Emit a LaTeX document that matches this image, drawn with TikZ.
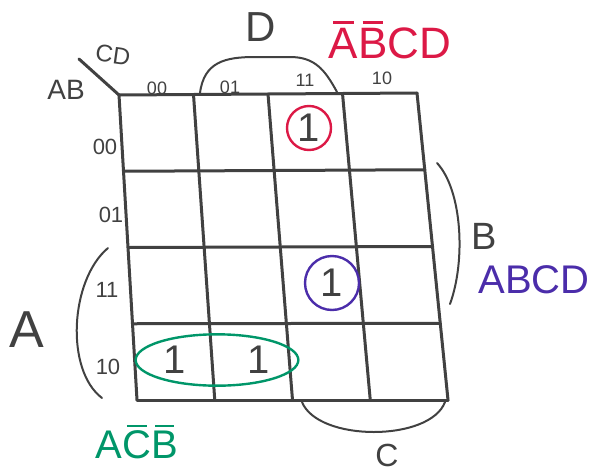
\documentclass[tikz,border=0pt]{standalone}
\usepackage{fontspec}
\setmainfont{Liberation Sans}
\usetikzlibrary{calc,fit,shapes.geometric}
\definecolor{kmrosso}{RGB}{220,25,70}
\definecolor{kmblu}{RGB}{75,45,170}
\definecolor{kmverde}{RGB}{0,150,105}
\definecolor{kmgrigio}{RGB}{65,65,65}
\newcommand{\nega}[1]{\setbox0\hbox{#1}\makebox[0pt][l]{\hspace{\dimexpr\wd0*15/100\relax}\rule[\dimexpr\ht0+2pt\relax]{\dimexpr\wd0*70/100\relax}{1.2pt}}\box0}
\newcommand{\fs}[1]{\fontsize{#1}{#1}\selectfont}

\begin{document}
\begin{tikzpicture}[x=0.5pt, y=-0.5pt,
    griglia/.style={draw=kmgrigio, line width=1.5pt, line cap=round},
    parentesi/.style={draw=kmgrigio, line width=1pt, line cap=round},
    etichetta/.style={text=kmgrigio, inner sep=0pt},
    uno/.style={text=kmgrigio, font=\fs{20}, inner sep=0pt},
    cerchio/.style={circle, line width=1.2pt, minimum size=22pt, inner sep=0pt}
]
\useasboundingbox (0,0) rectangle (598,471);

% Griglia
\coordinate (tl) at (119,95);
\coordinate (tr) at (417,93);
\coordinate (bl) at (137,400);
\coordinate (br) at (448,400);
\coordinate (diag) at (79,59);
\foreach \i in {0,...,4}{
    \draw[griglia] ($(tl)!\i/4!(bl)$) -- ($(tr)!\i/4!(br)$);
    \draw[griglia] ($(tl)!\i/4!(tr)$) -- ($(bl)!\i/4!(br)$);
}
\draw[griglia] (diag) -- (tl);

% Variabili
\node[etichetta, font=\fs{12}, rotate=-8] (cd) at (113,55) {CD};
\node[etichetta, font=\fs{14}] (ab) at (66,90) {AB};

% Colonne
\node[etichetta, font=\fs{9}] (c00) at (157,88) {00};
\node[etichetta, font=\fs{9}] (c01) at (230,87) {01};
\node[etichetta, font=\fs{9}] (c11) at (305,80) {11};
\node[etichetta, font=\fs{9}] (c10) at (382,78) {10};

% Righe
\node[etichetta, font=\fs{11}] (r00) at (105,147) {00};
\node[etichetta, font=\fs{11}] (r01) at (111,215) {01};
\node[etichetta, font=\fs{11}] (r11) at (107,290) {11};
\node[etichetta, font=\fs{11}] (r10) at (108,367) {10};

% Mintermini
\node[uno, cerchio, draw=kmrosso] (m1) at (309,128) {1};
\node[uno, cerchio, draw=kmblu, minimum size=27pt] (m2) at (332,283) {1};
\node[uno] (m3) at (175,360) {1};
\node[uno] (m4) at (259,360) {1};
\node[ellipse, draw=kmverde, line width=1.2pt, inner sep=2pt, fit=(m3)(m4)] (g1) {};

% Parentesi
\draw[parentesi] (200,93) .. controls (204,62) and (225,57) .. (255,57) -- (290,57) .. controls (315,57) and (325,70) .. (337,92);
\draw[parentesi] (437,163) .. controls (462,190) and (466,260) .. (450,304);
\draw[parentesi] (108,248) .. controls (70,280) and (65,370) .. (102,398);
\draw[parentesi] (302,402) .. controls (318,442) and (430,442) .. (445,402);

\node[etichetta, font=\fs{21}] (d) at (261,27) {D};
\node[etichetta, font=\fs{19}] (b) at (484,236) {B};
\node[etichetta, font=\fs{26}] (a) at (27,330) {A};
\node[etichetta, font=\fs{16}] (c) at (387,455) {C};

% Termini
\node[text=kmrosso, font=\fs{22}, inner sep=0pt] (t1) at (390,40) {\nega{A}\nega{B}CD};
\node[text=kmblu, font=\fs{20}, inner sep=0pt] (t2) at (534,280) {ABCD};
\node[text=kmverde, font=\fs{20}, inner sep=0pt] (t3) at (137,442) {A\nega{C}\nega{B}};

\end{tikzpicture}
\end{document}
